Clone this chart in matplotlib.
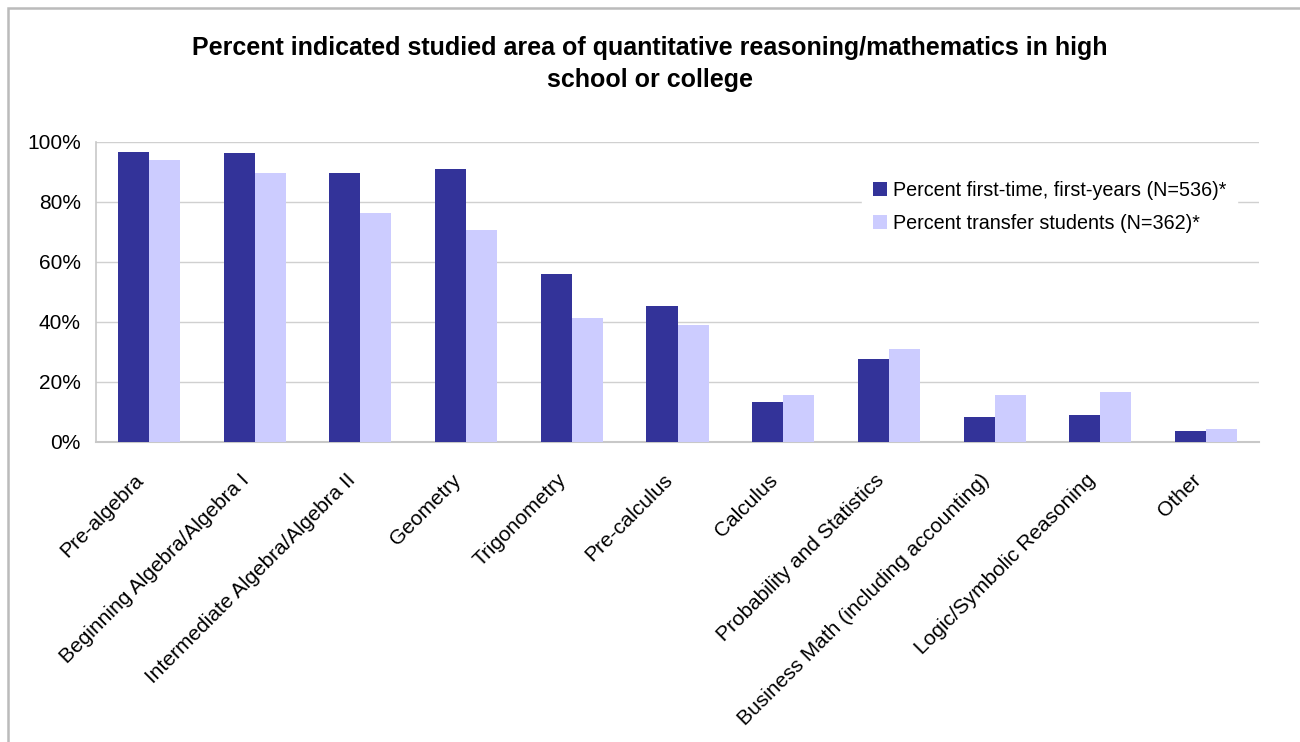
import numpy as np
import matplotlib.pyplot as plt
import matplotlib.transforms as mtransforms
from matplotlib.patches import Rectangle
from matplotlib.ticker import PercentFormatter

plt.rcParams['font.family'] = ['Liberation Sans', 'DejaVu Sans']

categories = ['Pre-algebra', 'Beginning Algebra/Algebra I', 'Intermediate Algebra/Algebra II',
              'Geometry', 'Trigonometry', 'Pre-calculus', 'Calculus', 'Probability and Statistics',
              'Business Math (including accounting)', 'Logic/Symbolic Reasoning', 'Other']
first_years = [96.8, 96.4, 89.8, 91.1, 56.1, 45.4, 13.3, 27.7, 8.3, 9.0, 3.7]
transfers = [94.1, 89.8, 76.4, 70.7, 41.4, 39.0, 15.7, 31.0, 15.7, 16.7, 4.3]
series_names = ['Percent first-time, first-years (N=536)*', 'Percent transfer students (N=362)*']

W, H = 1300, 742
fig = plt.figure(figsize=(13, 7.42), dpi=100)
ax = fig.add_axes([96 / W, 1 - 442 / H, (1259 - 96) / W, 300 / H])

# outer chart border (left and top visible)
fig.patches.append(Rectangle((8 / W, -0.05), 1.1, 1 - 8 / H + 0.05, transform=fig.transFigure,
                             fill=False, edgecolor='#bbbbbb', linewidth=1.8))

x = np.arange(len(categories))
w = 0.294
ax.bar(x - w / 2, first_years, w, color='#333399', label=series_names[0], zorder=3)
ax.bar(x + w / 2, transfers, w, color='#ccccff', label=series_names[1], zorder=3)

ax.set_xlim(-0.5, len(categories) - 0.5)
ax.set_ylim(0, 100)
ax.set_yticks(range(0, 101, 20))
ax.yaxis.set_major_formatter(PercentFormatter(decimals=0))
ax.grid(axis='y', color='#d0d0d0', linewidth=1, zorder=0)
for s in ['top', 'right']:
    ax.spines[s].set_visible(False)
ax.spines['left'].set_color('#c8c8c8')
ax.spines['bottom'].set_color('#c8c8c8')
ax.spines['left'].set_linewidth(1.2)
ax.spines['bottom'].set_linewidth(1.5)
ax.tick_params(axis='both', length=0, labelsize=15, colors='black')
ax.tick_params(axis='y', pad=11)
ax.tick_params(axis='x', pad=0)
ax.set_xticks(x)
ax.set_xticklabels(categories, rotation=45, ha='right', va='center', rotation_mode='anchor')
shift = mtransforms.ScaledTranslation(-0.08, -0.35, fig.dpi_scale_trans)
for lbl in ax.get_xticklabels():
    lbl.set_transform(lbl.get_transform() + shift)

leg = fig.legend(loc='center left', bbox_to_anchor=(862 / W, 1 - 207 / H), frameon=True, fontsize=14.2,
                 handlelength=0.71, handleheight=0.71, handletextpad=0.3, labelspacing=0.72,
                 borderaxespad=0, borderpad=0.55)
leg.get_frame().set_edgecolor('white')
leg.get_frame().set_facecolor('white')
leg.get_frame().set_alpha(1)
leg.get_frame().set_boxstyle('square', pad=0)

fig.text(0.5, 1 - 64 / H, 'Percent indicated studied area of quantitative reasoning/mathematics in high\nschool or college',
         ha='center', va='center', fontsize=18, fontweight='bold', linespacing=1.45)

fig.savefig('out.png', dpi=100, facecolor='white')
